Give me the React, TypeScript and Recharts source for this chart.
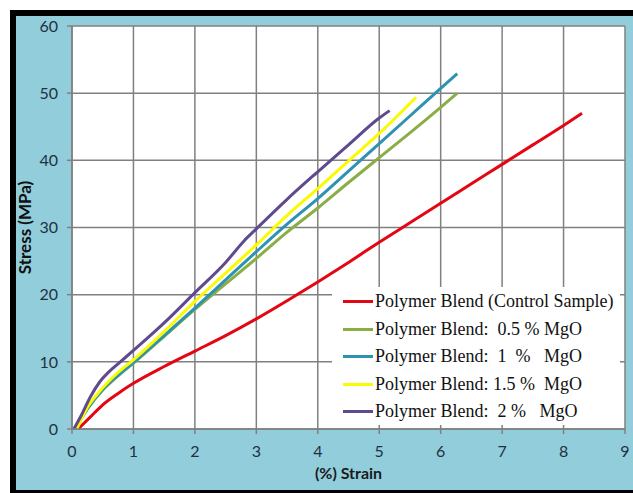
import React from 'react';
import { LineChart, Line, XAxis, YAxis, CartesianGrid } from 'recharts';

const controlStrain = [0.1, 0.3, 0.5, 0.75, 1.0, 1.5, 2.0, 2.5, 3.0, 3.5, 4.0, 4.5, 5.0, 5.5, 6.0, 6.5, 7.0, 7.5, 8.0, 8.3];
const controlStress = [0, 1.8, 3.6, 5.3, 6.8, 9.3, 11.6, 13.9, 16.4, 19.1, 21.9, 24.8, 27.8, 30.7, 33.6, 36.5, 39.4, 42.3, 45.2, 47.0];

const mgo05Strain = [0.05, 0.25, 0.5, 0.75, 1.0, 1.5, 2.0, 2.5, 3.0, 3.5, 4.0, 4.5, 5.0, 5.5, 6.0, 6.27];
const mgo05Stress = [0, 3.0, 5.8, 7.9, 9.8, 13.8, 17.8, 21.6, 25.4, 29.3, 32.9, 36.7, 40.4, 44.1, 47.9, 50.0];

const mgo1Strain = [0.05, 0.25, 0.5, 0.75, 1.0, 1.5, 2.0, 2.5, 3.0, 3.5, 4.0, 4.5, 5.0, 5.5, 6.0, 6.27];
const mgo1Stress = [0, 3.0, 5.9, 8.0, 9.9, 13.9, 18.0, 22.2, 26.4, 30.5, 34.3, 38.4, 42.5, 46.6, 50.7, 52.9];

const mgo15Strain = [0.08, 0.25, 0.45, 0.7, 1.0, 1.5, 2.0, 2.5, 3.0, 3.5, 4.0, 4.5, 5.0, 5.6];
const mgo15Stress = [0, 3.2, 5.6, 8.0, 10.3, 14.5, 19.0, 23.2, 27.4, 31.8, 35.8, 39.9, 44.0, 49.4];

const mgo2Strain = [0.03, 0.15, 0.3, 0.45, 0.6, 0.8, 1.0, 1.5, 2.0, 2.5, 2.8, 3.0, 3.5, 4.0, 4.5, 5.0, 5.17];
const mgo2Stress = [0, 2.0, 4.8, 7.0, 8.5, 10.1, 11.7, 15.8, 20.3, 24.8, 28.0, 29.8, 34.2, 38.3, 42.3, 46.3, 47.4];

const xTicks = [0, 1, 2, 3, 4, 5, 6, 7, 8, 9];
const yTicks = [0, 10, 20, 30, 40, 50, 60];

const seriesNames = [
  'Polymer Blend (Control Sample)',
  'Polymer Blend:  0.5 % MgO',
  'Polymer Blend:  1  %   MgO',
  'Polymer Blend: 1.5 %  MgO',
  'Polymer Blend:  2 %   MgO',
];
const seriesColors = ['#E30613', '#8AAE45', '#2E92B2', '#FAFA00', '#5E4A8C'];

const toData = (xs: number[], ys: number[]) => xs.map((x, i) => ({ x, y: ys[i] }));

const seriesData = [
  toData(controlStrain, controlStress),
  toData(mgo05Strain, mgo05Stress),
  toData(mgo1Strain, mgo1Stress),
  toData(mgo15Strain, mgo15Stress),
  toData(mgo2Strain, mgo2Stress),
];

const LegendBox = () => (
  <div
    style={{
      position: 'absolute',
      left: 332,
      top: 287,
      background: '#fff',
      width: 288,
      height: 138,
      paddingTop: 1,
      boxSizing: 'border-box',
    }}
  >
    {seriesNames.map((n, i) => (
      <div key={n} style={{ display: 'flex', alignItems: 'center', height: 27.5 }}>
        <div style={{ width: 30, height: 3, background: seriesColors[i], marginLeft: 11, marginRight: 2 }} />
        <span
          style={{
            fontFamily: '"Liberation Serif", "Times New Roman", serif',
            fontSize: 18,
            color: '#111',
            whiteSpace: 'pre',
          }}
        >
          {n}
        </span>
      </div>
    ))}
  </div>
);

const tickStyle = { fill: '#22313f', fontSize: 16, fontFamily: 'Lato, "Noto Sans", sans-serif' };

export default function App() {
  return (
    <div style={{ position: 'absolute', left: 0, top: 0, width: 633, height: 493, background: '#fff' }}>
      <div
        style={{
          position: 'absolute',
          left: 10,
          top: 10,
          width: 623,
          height: 483,
          background: '#92CDDC',
          borderTop: '6px solid #000',
          borderLeft: '6px solid #000',
          borderBottom: '3px solid #000',
          boxSizing: 'border-box',
        }}
      />
      <div style={{ position: 'absolute', left: 0, top: 0 }}>
        <LineChart width={633} height={493} margin={{ top: 26, right: 8, bottom: 0, left: 0 }}>
          <CartesianGrid stroke="#808080" strokeWidth={1.5} fill="#fff" />
          <XAxis
            type="number"
            dataKey="x"
            domain={[0, 9]}
            ticks={xTicks}
            height={64}
            tick={tickStyle}
            tickSize={5}
            tickMargin={12}
            axisLine={{ stroke: '#808080', strokeWidth: 1.5 }}
            tickLine={{ stroke: '#808080', strokeWidth: 1.5 }}
            label={{
              value: '(%) Strain',
              position: 'insideBottom',
              offset: 14,
              style: { fill: '#1a1a1a', fontWeight: 700, fontSize: 16, fontFamily: 'Lato, "Noto Sans", sans-serif' },
            }}
          />
          <YAxis
            type="number"
            dataKey="y"
            domain={[0, 60]}
            ticks={yTicks}
            width={72}
            tick={tickStyle}
            tickSize={5}
            tickMargin={9}
            axisLine={{ stroke: '#808080', strokeWidth: 1.5 }}
            tickLine={{ stroke: '#808080', strokeWidth: 1.5 }}
            label={{
              value: 'Stress (MPa)',
              angle: -90,
              position: 'insideLeft',
              offset: 25,
              style: { textAnchor: 'middle', fill: '#111', fontWeight: 700, fontSize: 17, fontFamily: 'Lato, "Noto Sans", sans-serif' },
            }}
          />
          {seriesData.map((d, i) => (
            <Line
              key={seriesNames[i]}
              data={d}
              dataKey="y"
              name={seriesNames[i]}
              type="monotone"
              stroke={seriesColors[i]}
              strokeWidth={3}
              dot={false}
              activeDot={false}
              isAnimationActive={false}
            />
          ))}
        </LineChart>
      </div>
      <LegendBox />
    </div>
  );
}
